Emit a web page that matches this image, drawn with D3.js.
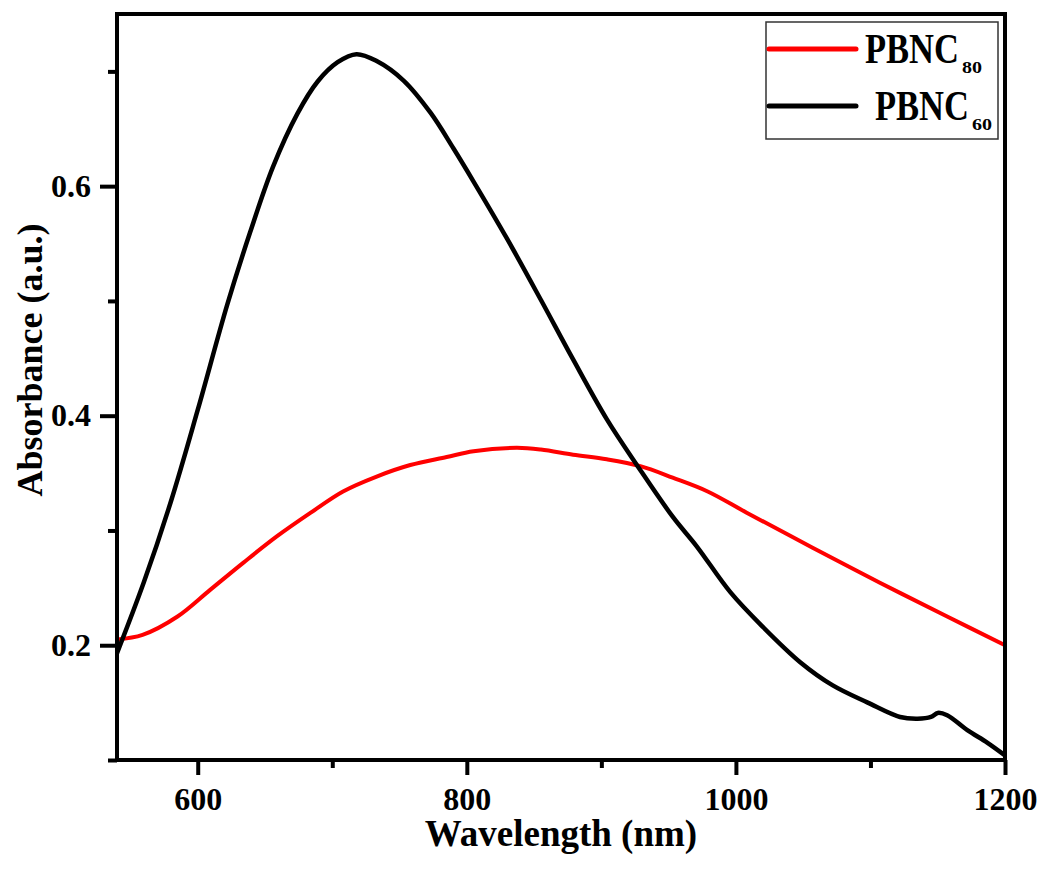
<!DOCTYPE html>
<html lang="en">
  <head>
    <meta charset="utf-8" />
    <title>Absorbance</title>
    <script src="https://d3js.org/d3.v7.min.js"></script>
    <style>
      body { margin: 0; background: #fff; }
      text { font-family: "Liberation Serif", "Times New Roman", serif; font-weight: bold; fill: #000; }
    </style>
  </head>
  <body>
    <script>
      // data
      var wlBlack = [540, 560, 580, 600, 622, 639, 656, 674, 689, 704, 718, 733, 753, 773, 790, 805, 830, 855, 879, 904, 927, 953, 971, 996, 1020, 1048, 1072, 1098, 1122, 1135, 1145, 1150, 1157, 1172, 1187, 1200];
      var absBlack = [0.193, 0.255, 0.325, 0.405, 0.497, 0.560, 0.617, 0.663, 0.691, 0.708, 0.715, 0.709, 0.692, 0.664, 0.633, 0.604, 0.554, 0.501, 0.449, 0.397, 0.356, 0.312, 0.286, 0.246, 0.216, 0.185, 0.165, 0.150, 0.1375, 0.136, 0.1375, 0.141, 0.139, 0.126, 0.115, 0.104];

      var wlRed = [540, 559, 585, 609, 634, 659, 684, 708, 733, 758, 785, 805, 837, 855, 879, 904, 929, 953, 979, 1008, 1057, 1107, 1157, 1200];
      var absRed = [0.205, 0.209, 0.225, 0.248, 0.272, 0.295, 0.3155, 0.334, 0.347, 0.357, 0.364, 0.369, 0.372, 0.3705, 0.366, 0.362, 0.356, 0.346, 0.334, 0.3155, 0.285, 0.2545, 0.225, 0.200];

      var seriesNames = ["PBNC", "PBNC"];
      var seriesSubs = ["80", "60"];
      var seriesColors = ["#ff0000", "#000000"];

      var xMajor = [600, 800, 1000, 1200];
      var xMinor = [700, 900, 1100];
      var yMajor = [0.2, 0.4, 0.6];
      var yMinor = [0.1, 0.3, 0.5, 0.7];

      var width = 1043;
      var height = 870;
      var margin = { top: 14, right: 38, bottom: 110, left: 117 };
      var w = width - margin.left - margin.right;
      var h = height - margin.top - margin.bottom;

      var svg = d3
        .select("body")
        .append("svg")
        .attr("width", width)
        .attr("height", height);

      var g = svg
        .append("g")
        .attr("transform", "translate(" + margin.left + "," + margin.top + ")");

      var x = d3.scaleLinear().domain([540, 1200]).range([0, w]);
      var y = d3.scaleLinear().domain([0.1, 0.75]).range([h, 0]);

      g.append("clipPath")
        .attr("id", "clip")
        .append("rect")
        .attr("width", w)
        .attr("height", h);

      var line = d3
        .line()
        .x(function (d) { return x(d[0]); })
        .y(function (d) { return y(d[1]); })
        .curve(d3.curveCatmullRom.alpha(0.5));

      var redData = wlRed.map(function (v, i) { return [v, absRed[i]]; });
      var blackData = wlBlack.map(function (v, i) { return [v, absBlack[i]]; });

      g.append("path")
        .datum(redData)
        .attr("clip-path", "url(#clip)")
        .attr("d", line)
        .attr("fill", "none")
        .attr("stroke", seriesColors[0])
        .attr("stroke-width", 4);

      g.append("path")
        .datum(blackData)
        .attr("clip-path", "url(#clip)")
        .attr("d", line)
        .attr("fill", "none")
        .attr("stroke", seriesColors[1])
        .attr("stroke-width", 4.5);

      // axes
      function styleAxis(sel) {
        sel.select(".domain").remove();
        sel.selectAll(".tick line").attr("stroke", "#000").attr("stroke-width", 4);
        sel.selectAll(".tick text").style("font-size", "32px");
      }

      g.append("g")
        .attr("transform", "translate(0," + h + ")")
        .call(d3.axisBottom(x).tickValues(xMajor).tickSize(15).tickPadding(12).tickFormat(d3.format("d")))
        .call(styleAxis);

      g.append("g")
        .attr("transform", "translate(0," + h + ")")
        .call(d3.axisBottom(x).tickValues(xMinor).tickSize(8).tickFormat(""))
        .call(styleAxis);

      g.append("g")
        .call(d3.axisLeft(y).tickValues(yMajor).tickSize(17).tickPadding(9).tickFormat(d3.format(".1f")))
        .call(styleAxis);

      g.append("g")
        .call(d3.axisLeft(y).tickValues(yMinor).tickSize(9).tickFormat(""))
        .call(styleAxis);

      // frame
      g.append("rect")
        .attr("width", w)
        .attr("height", h)
        .attr("fill", "none")
        .attr("stroke", "#000")
        .attr("stroke-width", 4);

      // axis titles
      svg.append("text")
        .attr("x", margin.left + w / 2)
        .attr("y", 846)
        .attr("text-anchor", "middle")
        .style("font-size", "37px")
        .text("Wavelength (nm)");

      svg.append("text")
        .attr("transform", "translate(42,360) rotate(-90)")
        .attr("text-anchor", "middle")
        .style("font-size", "36px")
        .text("Absorbance (a.u.)");

      // legend
      var leg = svg.append("g");
      leg.append("rect")
        .attr("x", 766)
        .attr("y", 22)
        .attr("width", 232)
        .attr("height", 117)
        .attr("fill", "#fff")
        .attr("stroke", "#333")
        .attr("stroke-width", 1.5);

      var rowY = [49, 106];
      var textX = [865, 875];
      seriesNames.forEach(function (name, i) {
        leg.append("line")
          .attr("x1", 769)
          .attr("x2", 856)
          .attr("y1", rowY[i])
          .attr("y2", rowY[i])
          .attr("stroke", seriesColors[i])
          .attr("stroke-width", 5)
          .attr("stroke-linecap", "round");
        var t = leg.append("text")
          .attr("x", textX[i])
          .attr("y", rowY[i] + 14);
        t.append("tspan")
          .attr("textLength", 94)
          .attr("lengthAdjust", "spacingAndGlyphs")
          .style("font-size", "43px")
          .text(name);
        t.append("tspan")
          .attr("x", textX[i] + 97)
          .attr("dy", 10)
          .attr("textLength", 20)
          .attr("lengthAdjust", "spacingAndGlyphs")
          .style("font-size", "17px")
          .text(seriesSubs[i]);
      });
    </script>
  </body>
</html>
